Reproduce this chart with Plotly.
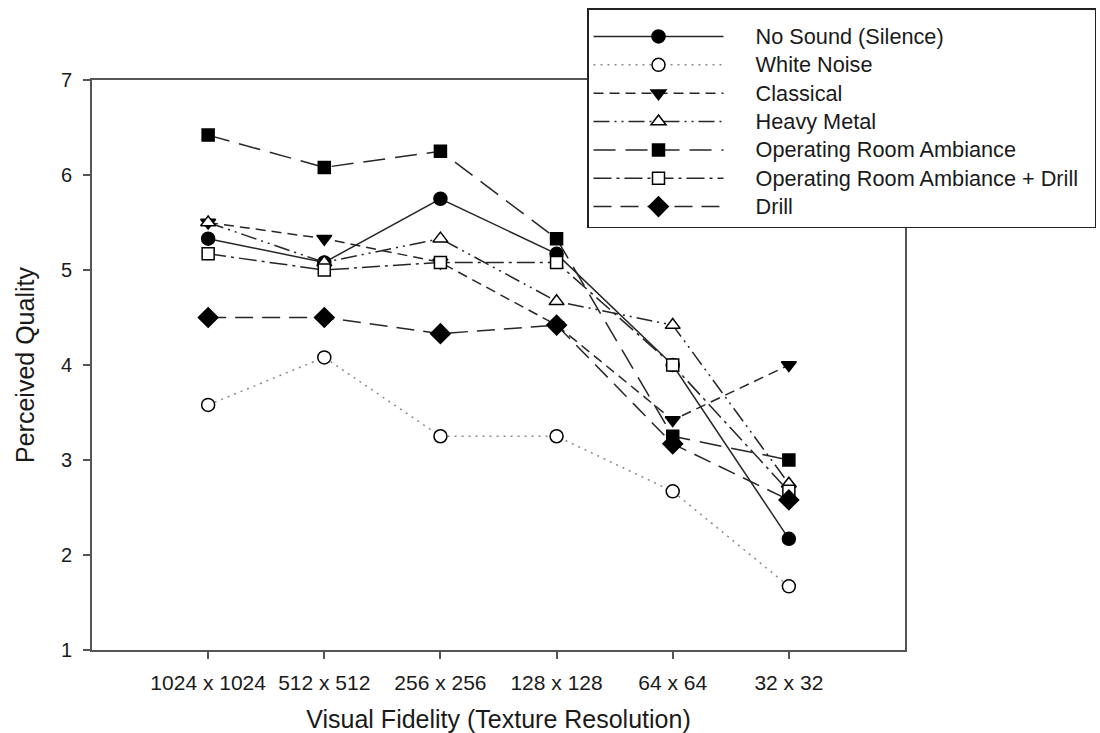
import plotly.graph_objects as go

# Texture resolutions on the x axis
resolutions = ["1024 x 1024", "512 x 512", "256 x 256", "128 x 128", "64 x 64", "32 x 32"]

# Mean perceived quality per sound condition
no_sound = [5.33, 5.08, 5.75, 5.17, 4.00, 2.17]
white_noise = [3.58, 4.08, 3.25, 3.25, 2.67, 1.67]
classical = [5.50, 5.33, 5.08, 4.42, 3.42, 4.00]
heavy_metal = [5.50, 5.08, 5.33, 4.67, 4.42, 2.75]
or_ambiance = [6.42, 6.08, 6.25, 5.33, 3.25, 3.00]
or_ambiance_drill = [5.17, 5.00, 5.08, 5.08, 4.00, 2.67]
drill = [4.50, 4.50, 4.33, 4.42, 3.17, 2.58]

y_ticks = [1, 2, 3, 4, 5, 6, 7]

FONT = "Liberation Sans, Arial, sans-serif"
LINE = "#262626"
NB = "\u00a0"


def legend_label(text):
    # pad the label away from the line sample and enlarge it slightly
    return f"{NB * 5}<span style='font-size:21.7px'>{text}</span>{NB * 2}"


series = [
    ("No Sound (Silence)", no_sound, "solid", "circle", "black", LINE, 13),
    ("White Noise", white_noise, "2px,5px", "circle", "white", "#8a8a8a", 13),
    ("Classical", classical, "10px,6px", "triangle-down", "black", LINE, 13),
    ("Heavy Metal", heavy_metal, "16px,5px,2px,5px,2px,5px", "triangle-up", "white", LINE, 13),
    ("Operating Room Ambiance", or_ambiance, "22px,10px", "square", "black", LINE, 12),
    ("Operating Room Ambiance + Drill", or_ambiance_drill, "18px,5px,3px,5px", "square", "white", LINE, 12),
    ("Drill", drill, "18px,9px", "diamond", "black", LINE, 15),
]

x_idx = list(range(len(resolutions)))

fig = go.Figure()
for name, vals, dash, symbol, fill, lcolor, msize in series:
    fig.add_trace(go.Scatter(
        x=x_idx,
        y=vals,
        name=legend_label(name),
        mode="lines+markers",
        line=dict(color=lcolor, width=1.5, dash=dash),
        marker=dict(symbol=symbol, size=msize, color=fill,
                    line=dict(color="black", width=1.5)),
    ))

axis_common = dict(
    showline=True,
    linecolor="#555555",
    linewidth=2,
    mirror=True,
    ticks="outside",
    ticklen=7,
    tickwidth=1.5,
    tickcolor="#555555",
    showgrid=False,
    zeroline=False,
    automargin=False,
)

fig.update_layout(
    width=1100,
    height=733,
    paper_bgcolor="white",
    plot_bgcolor="white",
    margin=dict(l=92, r=195, t=80, b=83, autoexpand=False),
    font=dict(family=FONT, color="#1a1a1a"),
    xaxis=dict(
        range=[-1, 6],
        tickvals=x_idx,
        ticktext=resolutions,
        tickfont=dict(size=21, family=FONT, color="#1a1a1a"),
        ticklabelstandoff=6,
        title=dict(text="Visual Fidelity (Texture Resolution)",
                   font=dict(size=25, family=FONT, color="#1a1a1a"),
                   standoff=22),
        **axis_common,
    ),
    yaxis=dict(
        range=[1, 7],
        tickvals=y_ticks,
        tickfont=dict(size=20, family=FONT, color="#1a1a1a"),
        ticklabelstandoff=7,
        title=dict(text="Perceived Quality",
                   font=dict(size=25, family=FONT, color="#1a1a1a"),
                   standoff=19),
        **axis_common,
    ),
    legend=dict(
        x=(587 - 92) / 813,
        y=1 + (80 - 8) / 570,
        xanchor="left",
        yanchor="top",
        bgcolor="white",
        bordercolor="#222222",
        borderwidth=1.5,
        font=dict(size=19.5, family=FONT, color="#1a1a1a"),
        title=dict(text=NB, font=dict(size=6)),
        itemwidth=130,
        tracegroupgap=0,
    ),
    showlegend=True,
)

fig.write_html("out.html")
